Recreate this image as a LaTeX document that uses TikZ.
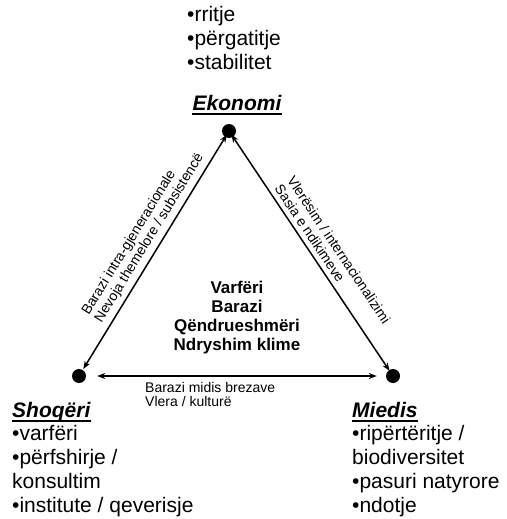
\documentclass[tikz,border=0pt]{standalone}
\usepackage{fontspec}
\setmainfont{Liberation Sans}
\usetikzlibrary{arrows.meta}
\begin{document}
\begin{tikzpicture}[x=1pt,y=1pt,
  dot/.style={circle,fill=black,inner sep=0pt,minimum size=14pt},
  conn/.style={line width=1.5pt,{Stealth[length=8pt,width=6pt]}-{Stealth[length=8pt,width=6pt]}},
  listtxt/.style={font=\fontsize{21}{24}\selectfont,align=left,inner sep=0pt},
  head/.style={font=\fontsize{21}{24}\selectfont\bfseries\itshape,inner sep=0pt},
  uline/.style={line width=2.5pt},
  edgelbl/.style={font=\fontsize{14}{15}\selectfont,align=left,inner xsep=0pt,inner ysep=5pt},
  botlbl/.style={font=\fontsize{14}{14}\selectfont,align=left,inner sep=0pt},
  centertxt/.style={font=\fontsize{17}{19}\selectfont\bfseries,align=center,inner sep=0pt}]
\useasboundingbox[fill=white] (0,0) rectangle (506,-519);

% dots
\node[dot] (T) at (229,-131) {};
\node[dot] (L) at (79,-376) {};
\node[dot] (R) at (393,-376) {};

% connectors
\draw[conn, shorten <=1pt, shorten >=-3pt] (L) -- (T);
\draw[conn, shorten <=-3pt, shorten >=-1pt] (T) -- (R);
\draw[conn, shorten <=11pt, shorten >=9pt] (L) -- (R);

% edge labels
\path (L) -- (T) node[edgelbl, sloped, pos=0.18, anchor=south west] (lbl1) {Barazi intra-gjeneracionale\\Nevoja themelore / subsistencë};
\path (T) -- (R) node[edgelbl, sloped, pos=0.235, anchor=south west] (lbl2) {Vlerësim / internacionalizimi\\Sasia e ndikimeve};
\node[botlbl, anchor=base west] (lbl3) at (145,-406) {Barazi midis brezave\\Vlera / kulturë};

% top
\node[listtxt, anchor=base west] (toplist) at (187,-70) {•rritje\\•përgatitje\\•stabilitet};
\node[head, anchor=base] (ek) at (237,-110) {Ekonomi};
\draw[uline] ([yshift=-4pt]ek.base west) -- ([yshift=-4pt]ek.base east);

% left
\node[head, anchor=base west] (sh) at (12,-417) {Shoqëri};
\draw[uline] ([yshift=-4pt]sh.base west) -- ([yshift=-4pt]sh.base east);
\node[listtxt, anchor=base west] (shlist) at (12,-512) {•varfëri\\•përfshirje /\\konsultim\\•institute / qeverisje};

% right
\node[head, anchor=base west] (mi) at (352,-417) {Miedis};
\draw[uline] ([yshift=-4pt]mi.base west) -- ([yshift=-4pt]mi.base east);
\node[listtxt, anchor=base west] (milist) at (352,-512) {•ripërtëritje /\\biodiversitet\\•pasuri natyrore\\•ndotje};

% center
\node[centertxt, anchor=base] (ctr) at (237,-350) {Varfëri\\Barazi\\Qëndrueshmëri\\Ndryshim klime};
\end{tikzpicture}
\end{document}
